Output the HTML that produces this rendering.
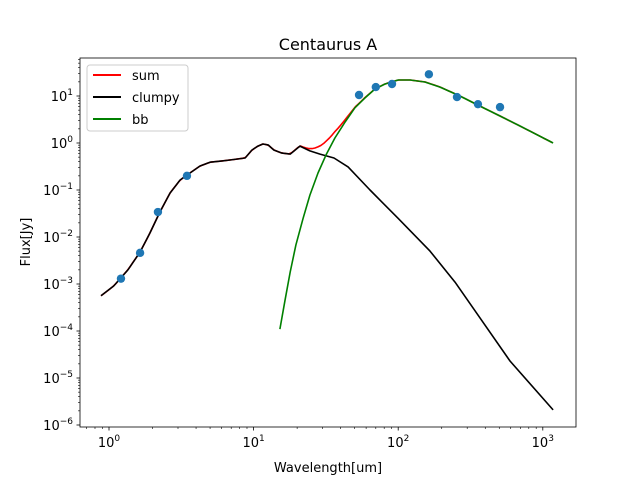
<!DOCTYPE html>
<html><head><meta charset="utf-8"><style>
body{margin:0;background:#fff;font-family:"Liberation Sans","DejaVu Sans",sans-serif}
svg text{font-family:"DejaVu Sans","Liberation Sans",sans-serif}
</style></head><body>
<svg id="chart" width="640" height="480" xmlns="http://www.w3.org/2000/svg">
<rect width="640" height="480" fill="#fff"/>
<text x="328" y="50" text-anchor="middle" font-size="16">Centaurus A</text>
<text x="328" y="472" text-anchor="middle" font-size="13">Wavelength[um]</text>
<text x="30" y="242" text-anchor="middle" font-size="13" transform="rotate(-90 30 242)">Flux[Jy]</text>
<g id="ticks"></g>
<g id="plot"></g>
<rect x="80" y="58" width="496" height="369" fill="none" stroke="#000" stroke-width="0.8"/>
<g>
<rect x="87" y="65" width="101" height="66" rx="3" fill="#fff" fill-opacity="0.8" stroke="#ccc"/>
<g><line x1="93" y1="75" x2="121" y2="75" stroke="#ff0000" stroke-width="2"/><text x="132" y="80" font-size="13">sum</text></g>
<g><line x1="93" y1="97" x2="121" y2="97" stroke="#000" stroke-width="2"/><text x="132" y="102" font-size="13">clumpy</text></g>
<g><line x1="93" y1="119" x2="121" y2="119" stroke="#008000" stroke-width="2"/><text x="132" y="124" font-size="13">bb</text></g>
</g>
</svg>
<script>
const obsX=[1.21,1.64,2.18,3.46,53.6,70,90.6,163,255,356,506];
const obsY=[1.3e-3,4.6e-3,0.034,0.2,10.5,15.5,18,29,9.5,6.7,5.8];
const clumpyX=[0.88,1.08,1.35,1.64,1.92,2.25,2.64,3.10,3.63,4.26,4.99,5.86,6.87,8.73,9.75,10.7,11.6,12.6,13.8,15.7,17.9,20.9,24.5,28.8,36,45,63.8,99.8,166,247,368,593,1178];
const clumpyY=[5.6e-4,9.1e-4,2.0e-3,4.8e-3,0.0122,0.034,0.086,0.163,0.23,0.324,0.39,0.41,0.435,0.48,0.71,0.86,0.95,0.91,0.71,0.61,0.58,0.86,0.68,0.58,0.48,0.31,0.1,0.025,5.0e-3,1.1e-3,1.9e-4,2.3e-5,2.1e-6];
const bbX=[15.2,16.5,17.9,19.6,22.0,24.5,27.9,31.7,36.5,42.9,50.2,58.9,69.1,81,99.8,121,153,195,267,368,506,695,1178];
const bbY=[1.1e-4,4.6e-4,1.8e-3,6.8e-3,0.025,0.078,0.23,0.56,1.28,2.8,5.6,9.1,14.1,18,21.9,21.9,19.9,15.5,10,6.1,3.75,2.3,1.0];
const xTickVals=[1,10,100,1000];
const xTickExp=["0","1","2","3"];
const yTickVals=[1e-6,1e-5,1e-4,1e-3,1e-2,1e-1,1,10];
const yTickExp=["−6","−5","−4","−3","−2","−1","0","1"];

const L=80,R=576,T=58,B=427,xmin=-0.2006,xmax=3.2296,ymin=-6.0426,ymax=1.8085;
const sx=v=>L+(Math.log10(v)-xmin)/(xmax-xmin)*(R-L);
const sy=v=>B-(Math.log10(v)-ymin)/(ymax-ymin)*(B-T);
const NS="http://www.w3.org/2000/svg";
function mk(tag,attrs,parent){const e=document.createElementNS(NS,tag);for(const k in attrs)e.setAttribute(k,attrs[k]);parent.appendChild(e);return e;}
const tg=document.getElementById('ticks'),pg=document.getElementById('plot');
function interpLog(xs,ys,x){const lx=Math.log10(x);for(let i=0;i<xs.length-1;i++){const a=Math.log10(xs[i]),b=Math.log10(xs[i+1]);if(lx>=a&&lx<=b){const t=(lx-a)/(b-a);return Math.pow(10,Math.log10(ys[i])*(1-t)+Math.log10(ys[i+1])*t);}}return 0;}
// x ticks
for(let d=-1;d<=3;d++)for(let m=1;m<10;m++){const v=m*Math.pow(10,d);if(Math.log10(v)<xmin||Math.log10(v)>xmax)continue;const x=sx(v);
const t=mk('line',{x1:x,x2:x,y1:B,y2:B+(m==1?3.5:2),stroke:'#000','stroke-width':m==1?0.8:0.6},tg);

}
xTickVals.forEach((v,i)=>{const x=sx(v);const tx=mk('text',{x:x,y:B+20,'text-anchor':'middle','font-size':13},tg);


tx.innerHTML='10<tspan dy="-6" font-size="9">'+xTickExp[i]+'</tspan>';});
// y ticks
for(let d=-7;d<=1;d++)for(let m=1;m<10;m++){const v=m*Math.pow(10,d);if(Math.log10(v)<ymin||Math.log10(v)>ymax)continue;const y=sy(v);
const t=mk('line',{x1:L,x2:L-(m==1?3.5:2),y1:y,y2:y,stroke:'#000','stroke-width':m==1?0.8:0.6},tg);

}
yTickVals.forEach((v,i)=>{const y=sy(v);const tx=mk('text',{x:L-7,y:y+5,'text-anchor':'end','font-size':13},tg);


tx.innerHTML='10<tspan dy="-6" font-size="9">'+yTickExp[i]+'</tspan>';});
function path(xs,ys,color,name){const d=xs.map((x,i)=>(i?'L':'M')+sx(x).toFixed(1)+','+sy(ys[i]).toFixed(1)).join('');
const p=mk('path',{d:d,fill:'none',stroke:color,'stroke-width':1.6,'stroke-linejoin':'round'},pg);

}
// sum curve on a dense grid
const sumX=[],sumY=[];
for(let lx=Math.log10(clumpyX[0]);lx<=Math.log10(clumpyX[clumpyX.length-1])+1e-9;lx+=0.02){const x=Math.pow(10,lx);sumX.push(x);sumY.push(interpLog(clumpyX,clumpyY,x)+interpLog(bbX,bbY,x));}
path(sumX,sumY,'#ff0000','sum-line');
path(clumpyX,clumpyY,'#000000','clumpy-line');
path(bbX,bbY,'#008000','bb-line');
obsX.forEach((x,i)=>{const c=mk('circle',{cx:sx(x),cy:sy(obsY[i]),r:4.2,fill:'#1f77b4'},pg);

});
</script>
</body></html>
